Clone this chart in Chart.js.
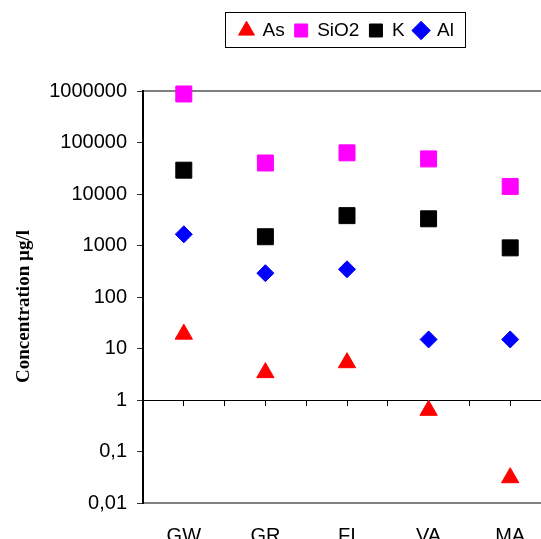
<!DOCTYPE html>
<html lang="en">
<head>
  <meta charset="UTF-8">
  <title>Concentration µg/l</title>
  <script src="https://cdn.jsdelivr.net/npm/chart.js@4.4.1/dist/chart.umd.min.js"></script>
  <style>
    html, body {
      margin: 0;
      padding: 0;
      background: #fff;
      overflow: hidden;
    }
    #wrap {
      width: 541px;
      height: 539px;
      overflow: hidden;
    }
    canvas {
      display: block;
    }
  </style>
</head>
<body>
  <div id="wrap">
    <canvas id="chart" width="560" height="550"></canvas>
  </div>

  <script>
    const sites = ['GW', 'GR', 'FI', 'VA', 'MA'];
    const arsenic = [19, 3.4, 5.3, 0.63, 0.031];
    const silica = [875000, 40000, 63000, 48000, 14000];
    const potassium = [29000, 1480, 3800, 3300, 900];
    const aluminium = [1650, 290, 345, 15, 15];
    const yTicks = [0.01, 0.1, 1, 10, 100, 1000, 10000, 100000, 1000000];
    const yTickLabels = ['0,01', '0,1', '1', '10', '100', '1000', '10000', '100000', '1000000'];

    const sans = 'Liberation Sans, Arial, sans-serif';
    const serif = 'Liberation Serif, Times New Roman, serif';

    const points = vals => sites.map((s, i) => ({ x: i + 1, y: vals[i] }));

    // leave room between the legend and the plot, like the Excel original
    const legendSpacer = {
      id: 'legendSpacer',
      beforeInit(chart) {
        if (!chart.legend) return;
        const fit = chart.legend.fit;
        chart.legend.fit = function () {
          fit.call(this);
          this.height = 80;
        };
      }
    };

    const frame = {
      id: 'frame',
      beforeDatasetsDraw(chart) {
        const { ctx, chartArea: a } = chart;
        ctx.save();
        ctx.strokeStyle = '#808080';
        ctx.lineWidth = 2;
        ctx.beginPath();
        ctx.moveTo(a.left + 1, a.top);
        ctx.lineTo(a.right, a.top);
        ctx.moveTo(a.left + 1, a.bottom);
        ctx.lineTo(a.right, a.bottom);
        ctx.stroke();
        ctx.restore();
      },
      afterDraw(chart) {
        const boxes = chart.legend.legendHitBoxes;
        if (!boxes || !boxes.length) return;
        const first = boxes[0];
        const last = boxes[boxes.length - 1];
        const ctx = chart.ctx;
        ctx.save();
        ctx.strokeStyle = '#000';
        ctx.lineWidth = 1;
        ctx.strokeRect(Math.round(first.left - 15) + 0.5, Math.round(first.top - 9) + 0.5,
          Math.round(last.left + last.width + 11 - (first.left - 15)),
          Math.round(first.height + 16));
        ctx.restore();
      }
    };

    const noSidePadding = s => { s.paddingLeft = 0; s.paddingRight = 0; };

    new Chart(document.getElementById('chart'), {
      type: 'scatter',
      data: {
        datasets: [
          {
            label: 'As',
            data: points(arsenic),
            pointStyle: 'triangle',
            pointRadius: 10,
            backgroundColor: '#ff0000',
            borderColor: '#ff0000',
            borderWidth: 1
          },
          {
            label: 'SiO2',
            data: points(silica),
            pointStyle: 'rect',
            pointRadius: 11.3,
            backgroundColor: '#ff00ff',
            borderColor: '#ff00ff',
            borderWidth: 1
          },
          {
            label: 'K',
            data: points(potassium),
            pointStyle: 'rect',
            pointRadius: 11.3,
            backgroundColor: '#000000',
            borderColor: '#000000',
            borderWidth: 1
          },
          {
            label: 'Al',
            data: points(aluminium),
            pointStyle: 'rectRot',
            pointRadius: 8.5,
            backgroundColor: '#0000ff',
            borderColor: '#0000ff',
            borderWidth: 1
          }
        ]
      },
      options: {
        responsive: false,
        animation: false,
        clip: false,
        layout: {
          autoPadding: false,
          padding: { top: 11, right: 9, bottom: 0, left: 0 }
        },
        plugins: {
          tooltip: { enabled: false },
          legend: {
            position: 'top',
            fullSize: false,
            labels: {
              usePointStyle: true,
              boxHeight: 13,
              boxWidth: 13,
              padding: 10,
              color: '#000',
              font: { family: sans, size: 19 }
            }
          }
        },
        scales: {
          x: {
            type: 'linear',
            position: 'bottom',
            min: 0.5,
            max: 5.5,
            grid: { display: false, drawTicks: false },
            border: { display: false },
            afterBuildTicks: s => { s.ticks = sites.map((c, i) => ({ value: i + 1 })); },
            afterFit: s => { s.height = 47; noSidePadding(s); },
            ticks: {
              padding: 21,
              autoSkip: false,
              maxRotation: 0,
              color: '#000',
              font: { family: sans, size: 20 },
              callback: (v, i) => sites[i]
            }
          },
          x2: {
            type: 'linear',
            position: { y: 1 },
            min: 0.5,
            max: 5.5,
            afterFit: noSidePadding,
            grid: { drawOnChartArea: false, tickLength: 5, color: '#000', lineWidth: 1 },
            border: { color: '#000', width: 1 },
            ticks: { display: false, stepSize: 0.5 }
          },
          y: {
            type: 'logarithmic',
            min: 0.01,
            max: 1000000,
            afterBuildTicks: s => { s.ticks = yTicks.map(v => ({ value: v })); },
            afterFit: s => { s.width = 143; },
            grid: { drawOnChartArea: false, tickLength: 6, color: '#333', lineWidth: 1 },
            border: { color: '#000', width: 2 },
            ticks: {
              padding: 10,
              autoSkip: false,
              color: '#000',
              font: { family: sans, size: 20 },
              callback: (v, i) => yTickLabels[i]
            },
            title: {
              display: true,
              text: 'Concentration µg/l\u00a0\u00a0\u00a0\u00a0',
              color: '#000',
              padding: { top: 13, bottom: 0 },
              font: { family: serif, size: 19, weight: 'bold' }
            }
          }
        }
      },
      plugins: [legendSpacer, frame]
    });
  </script>
</body>
</html>
